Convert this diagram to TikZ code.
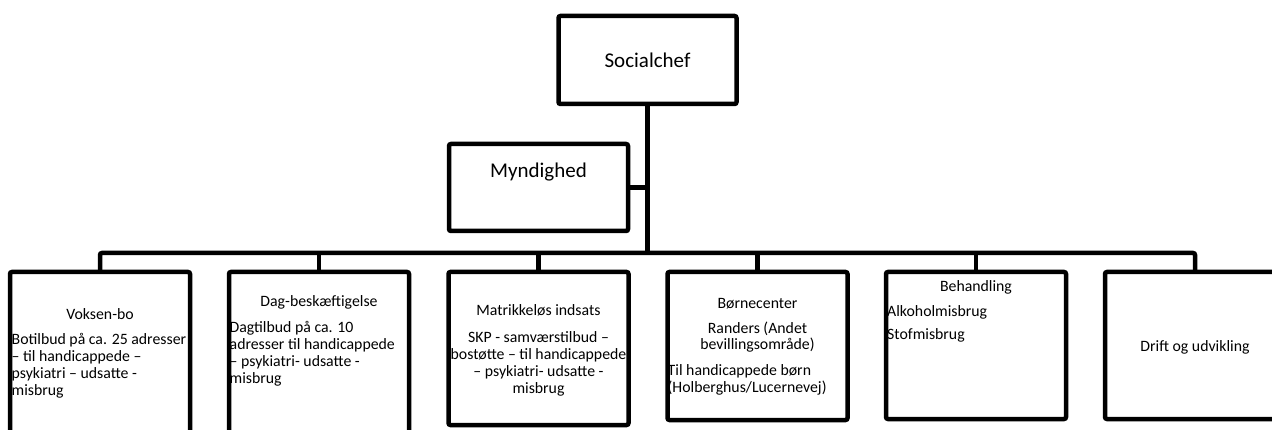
\documentclass[tikz,border=0pt]{standalone}
\usepackage{fontspec}
\setmainfont{Carlito}
\usepackage{tikz}
\usetikzlibrary{positioning, calc}

\begin{document}
\begin{tikzpicture}[
  unitbox/.style={draw, line width=4.5pt, rounded corners=2pt, fill=white, inner sep=0pt, outer sep=0pt, minimum width=180pt},
  orgline/.style={line width=4.5pt, rounded corners=2pt},
  toptext/.style={inner sep=0pt, font=\fontsize{21}{25}\selectfont},
  unittext/.style={inner sep=0pt, font=\fontsize{15.8}{17}\selectfont}
]
  \useasboundingbox (0,0) rectangle (1272pt,-430pt);

  % Top level
  \node[unitbox, minimum width=178pt, minimum height=88pt, toptext] (social) at (647.5pt,-60pt) {Socialchef};
  \node[unitbox, minimum width=179pt, minimum height=87pt] (myn) at (538.5pt,-187.5pt) {};
  \node[toptext, anchor=base] at ($(myn.north)+(0,-34pt)$) {Myndighed};

  % Units
  \node[unitbox, anchor=north, minimum height=172pt] (voksen) at (100pt,-272pt) {};
  \node[unitbox, anchor=north, minimum height=172pt] (dag) at (319pt,-272pt) {};
  \node[unitbox, anchor=north, minimum height=153pt] (matrikel) at (538.5pt,-272pt) {};
  \node[unitbox, anchor=north, minimum height=148pt] (boern) at (757.5pt,-272pt) {};
  \node[unitbox, anchor=north, minimum height=147pt] (behandling) at (976pt,-272pt) {};
  \node[unitbox, anchor=north, minimum height=147pt] (drift) at (1195pt,-272pt) {};

  % Lines
  \coordinate (bar) at (0,-253pt);
  \draw[orgline] (voksen.north) -- (voksen.north |- bar) -- (drift.north |- bar) -- (drift.north);
  \draw[orgline] (social.south) -- (social.south |- bar);
  \draw[orgline] (myn.east) -- (myn.east -| social.south);
  \draw[orgline] (dag.north) -- (dag.north |- bar);
  \draw[orgline] (matrikel.north) -- (matrikel.north |- bar);
  \draw[orgline] (boern.north) -- (boern.north |- bar);
  \draw[orgline] (behandling.north) -- (behandling.north |- bar);

  % Voksen-bo (base = last line)
  \node[unittext, anchor=base] at ($(voksen.north)+(0,-48pt)$) {Voksen-bo};
  \node[unittext, anchor=base west, align=left] at ($(voksen.north west)+(1.5pt,-123pt)$) {
    Botilbud på ca. 25 adresser\\
    – til handicappede –\\
    psykiatri – udsatte -\\
    misbrug
  };

  % Dag-beskaeftigelse
  \node[unittext, anchor=base] at ($(dag.north)+(0,-35pt)$) {Dag-beskæftigelse};
  \node[unittext, anchor=base west, align=left] at ($(dag.north west)+(0.5pt,-111pt)$) {
    Dagtilbud på ca. 10\\
    adresser til handicappede\\
    – psykiatri- udsatte -\\
    misbrug
  };

  % Matrikelloes indsats
  \node[unittext, anchor=base] at ($(matrikel.north)+(0,-44pt)$) {Matrikkeløs indsats};
  \node[unittext, anchor=base, align=center] at ($(matrikel.north)+(0,-121pt)$) {
    SKP - samværstilbud –\\
    bostøtte – til handicappede\\
    – psykiatri- udsatte -\\
    misbrug
  };

  % Boernecenter
  \node[unittext, anchor=base] at ($(boern.north)+(0,-37pt)$) {Børnecenter};
  \node[unittext, anchor=base, align=center] at ($(boern.north)+(0,-78pt)$) {
    Randers (Andet\\
    bevillingsområde)
  };
  \node[unittext, anchor=base west, align=left] at ($(boern.north west)+(0pt,-120pt)$) {
    Til handicappede børn\\
    (Holberghus/Lucernevej)
  };

  % Behandling
  \node[unittext, anchor=base] at ($(behandling.north)+(0,-20pt)$) {Behandling};
  \node[unittext, anchor=base west, align=left] at ($(behandling.north west)+(1pt,-68pt)$) {
    Alkoholmisbrug\\[6pt]
    Stofmisbrug
  };

  % Drift
  \node[unittext, anchor=base] at ($(drift.north)+(0,-80pt)$) {Drift og udvikling};
\end{tikzpicture}
\end{document}
